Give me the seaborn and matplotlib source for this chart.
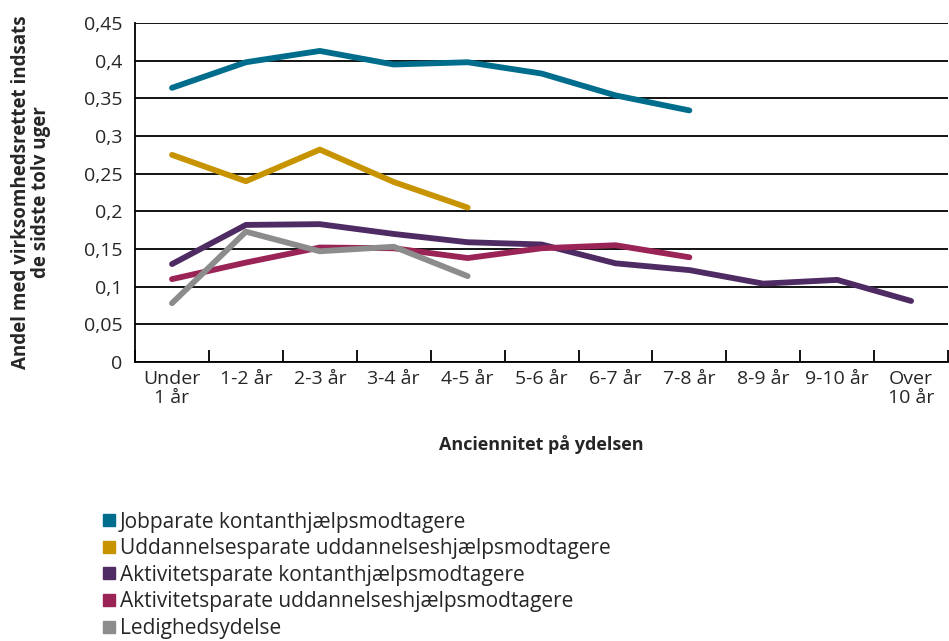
import numpy as np
import pandas as pd
import matplotlib
matplotlib.use("Agg")
import matplotlib.pyplot as plt
from matplotlib.lines import Line2D
import seaborn as sns

# Data
kategorier = ["Under\n1 år", "1-2 år", "2-3 år", "3-4 år", "4-5 år", "5-6 år",
              "6-7 år", "7-8 år", "8-9 år", "9-10 år", "Over\n10 år"]

jobparate_kh = [0.364, 0.398, 0.413, 0.395, 0.398, 0.383, 0.354, 0.334]
uddannelsesparate_uh = [0.275, 0.240, 0.282, 0.239, 0.205]
aktivitetsparate_kh = [0.130, 0.182, 0.183, 0.170, 0.159, 0.156, 0.131, 0.122,
                       0.104, 0.109, 0.081]
aktivitetsparate_uh = [0.110, 0.132, 0.152, 0.151, 0.138, 0.151, 0.155, 0.139]
ledighedsydelse = [0.078, 0.173, 0.147, 0.153, 0.114]

serier = {
    "Jobparate kontanthjælpsmodtagere": jobparate_kh,
    "Uddannelsesparate uddannelseshjælpsmodtagere": uddannelsesparate_uh,
    "Aktivitetsparate kontanthjælpsmodtagere": aktivitetsparate_kh,
    "Aktivitetsparate uddannelseshjælpsmodtagere": aktivitetsparate_uh,
    "Ledighedsydelse": ledighedsydelse,
}
farver = ["#006d8c", "#c79400", "#4f2b64", "#9a2456", "#8c8c8c"]

rows = []
for navn, vals in serier.items():
    for i, v in enumerate(vals):
        rows.append({"gruppe": navn, "pos": i, "andel": v})
df = pd.DataFrame(rows)

sns.set_theme(style="white")
plt.rcParams["font.family"] = ["Open Sans", "DejaVu Sans"]

fig = plt.figure(figsize=(9.49, 6.41), dpi=100)
ax = fig.add_axes([0.1423, 0.4353, 0.8567, 0.5287])

sns.lineplot(data=df, x="pos", y="andel", hue="gruppe", palette=farver,
             hue_order=list(serier.keys()), linewidth=4.2, legend=False,
             ax=ax, solid_capstyle="round")

ax.set_xlim(-0.5, len(kategorier) - 0.5)
ax.set_ylim(0, 0.45)
yt = np.arange(0, 0.451, 0.05)
ax.set_yticks(yt)
ax.set_yticklabels([("%.2f" % t).rstrip("0").rstrip(".").replace(".", ",") if t > 0 else "0"
                    for t in yt], fontsize=14)
ax.yaxis.grid(True, color="black", linewidth=1.3)
ax.set_axisbelow(True)
ax.tick_params(axis="y", length=0, pad=9)

# tick marks between categories, labels at category centres
ax.set_xticks(np.arange(-0.5, len(kategorier), 1.0))
ax.set_xticklabels([])
ax.set_xticks(np.arange(len(kategorier)), minor=True)
ax.set_xticklabels(kategorier, minor=True, fontsize=14, linespacing=1.05)
ax.tick_params(axis="x", which="major", direction="in", length=9, width=1.3,
               color="black", bottom=True)
ax.tick_params(axis="x", which="minor", length=0, pad=6)

for s in ["top", "right"]:
    ax.spines[s].set_visible(False)
for s in ["left", "bottom"]:
    ax.spines[s].set_color("black")
    ax.spines[s].set_linewidth(1.3)

ax.set_xlabel("Anciennitet på ydelsen", fontsize=13, fontweight="bold", labelpad=20)
ax.set_ylabel("")
fig.text(0.033, 0.70, "Andel med virksomhedsrettet indsats\nde sidste tolv uger",
         rotation=90, ha="center", va="center", multialignment="center",
         fontsize=13.5, fontweight="bold", linespacing=1.0)

handles = [Line2D([], [], marker="s", linestyle="none", markersize=8,
                  markerfacecolor=c, markeredgecolor=c) for c in farver]
fig.legend(handles, list(serier.keys()), loc="upper left",
           bbox_to_anchor=(0.098, 0.215), frameon=False, fontsize=15,
           handlelength=0.7, handletextpad=0.2, labelspacing=0.27,
           borderaxespad=0)

fig.savefig("out.png", dpi=100)
